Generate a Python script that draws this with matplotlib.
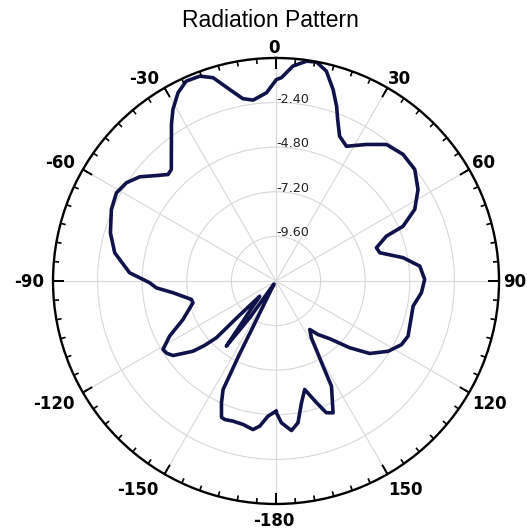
import numpy as np
import matplotlib
matplotlib.use("Agg")
import matplotlib.pyplot as plt

# pattern (deg, dB)
angle_deg = [-180, -176.6, -173.6, -171.2, -167.0, -162.9, -159.7, -158.2, -155.9, -154.0,
             -153.5, -153.2, -152.2, -148.0, -145.0, -144.4, -142.7, -140.6, -137.6, -134.5,
             -133.0, -133.2, -133.6, -132.0, -130.2, -125.9, -123.5, -121.2, -117.4, -112.5,
             -104.7, -102.3, -96.5, -93.3, -90.8, -86.8, -80.1, -73.8, -66.5, -61.1,
             -56.7, -52.6, -48.6, -45.4, -43.2, -39.8, -37.1, -33.7, -31.0, -27.5,
             -24.2, -20.4, -17.2, -13.6, -10.3, -7.2, -2.9, 0.1, 1.5, 4.5,
             7.9, 10.5, 13.5, 16.6, 19.1, 20.9, 23.7, 27.6, 33.5, 39.0,
             45.1, 51.2, 57.2, 62.7, 66.7, 67.9, 71.7, 74.8, 79.6, 84.1,
             89.4, 94.6, 100.4, 104.6, 112.7, 116.9, 122.1, 127.7, 132.2, 137.1,
             141.9, 145.2, 148.1, 151.1, 152.2, 156.6, 159.1, 161.6, 165.2, 168.2,
             171.2, 174.1, 177.8, 180]
gain_db = [-5.0, -4.71, -4.14, -3.91, -4.08, -4.11, -4.05, -4.1, -4.81, -5.5,
           -7.5, -9.8, -11.07, -11.8, -11.66, -9.57, -7.59, -9.2, -10.16, -10.7,
           -10.8, -9.2, -7.57, -6.8, -6.14, -5.16, -4.95, -4.89, -5.55, -6.58,
           -7.38, -7.34, -6.42, -5.55, -5.2, -4.11, -3.19, -2.72, -2.34, -2.19,
           -2.37, -2.77, -3.42, -3.84, -3.77, -3.2, -2.67, -1.86, -1.23, -0.58,
           -0.21, -0.24, -0.55, -1.4, -2.03, -2.19, -1.86, -1.16, -1.06, -0.4,
           -0.06, -0.02, -0.39, -1.25, -2.04, -2.7, -3.49, -3.82, -3.19, -2.55,
           -2.35, -2.42, -2.91, -3.6, -4.56, -5.59, -6.31, -6.21, -5.05, -4.22,
           -4.0, -4.15, -4.5, -4.47, -4.3, -4.43, -4.88, -5.62, -6.65, -7.76,
           -8.34, -8.82, -8.4, -6.76, -5.6, -4.27, -4.41, -5.1, -5.96, -5.3,
           -4.28, -3.91, -4.36, -4.95]

theta_ticks = [0, 30, 60, 90, 120, 150, 180, 210, 240, 270, 300, 330]
theta_labels = ["0", "30", "60", "90", "120", "150", "-180", "-150", "-120", "-90", "-60", "-30"]
minor_step = 5
r_ticks = [-2.4, -4.8, -7.2, -9.6]
r_labels = ["-2.40", "-4.80", "-7.20", "-9.60"]
r_min, r_max = -12, 0

fig = plt.figure(figsize=(5.27, 5.29), dpi=100)
ax = fig.add_axes([0.1006, 0.0473, 0.8463, 0.8431], projection="polar")
ax.set_theta_zero_location("N")
ax.set_theta_direction(-1)

ax.plot(np.radians(angle_deg), gain_db, color="#10124a", lw=2.6, solid_joinstyle="round")

# tick marks on the rim, pointing inwards
minor_th = np.radians(np.arange(0, 360, minor_step))
ax.vlines(minor_th, r_max - 0.28, r_max, color="black", lw=1.2)
ax.vlines(np.radians(theta_ticks), r_max - 0.58, r_max, color="black", lw=1.4)

ax.set_xticks(np.radians(theta_ticks))
ax.set_xticklabels([])
ax.set_xlim(0, 2 * np.pi)
ax.set_ylim(r_min, r_max)

# angle labels just outside the rim
for t, lab in zip(theta_ticks, theta_labels):
    s, c = np.sin(np.radians(t)), np.cos(np.radians(t))
    ha = "left" if s > 0.3 else ("right" if s < -0.3 else "center")
    dx = 6.5 * s - 2.5
    if c > 0.3:
        dy = 7 * c - 2
    elif c < -0.3:
        dy = 11 * c + 1 - 12.2
    else:
        dy = -6
    ax.annotate(lab, xy=(np.radians(t), r_max), xytext=(dx, dy), textcoords="offset pixels",
                ha=ha, va="baseline", fontsize=12, fontweight="bold",
                family="DejaVu Sans", color="black", annotation_clip=False)

ax.set_yticks(r_ticks)
ax.set_yticklabels([])
for r, lab in zip(r_ticks, r_labels):
    ax.text(0, r, lab, ha="left", va="baseline", fontsize=9.2, color="#222222",
            family="DejaVu Sans")

ax.grid(True, color="#d8d8d8", lw=0.8)
ax.spines["polar"].set_linewidth(1.7)
ax.spines["polar"].set_color("black")

fig.text(0.514, 0.9495, "Radiation Pattern", ha="center", va="baseline",
         fontsize=16.5, family="Liberation Sans")

fig.savefig("out.png", dpi=100)
